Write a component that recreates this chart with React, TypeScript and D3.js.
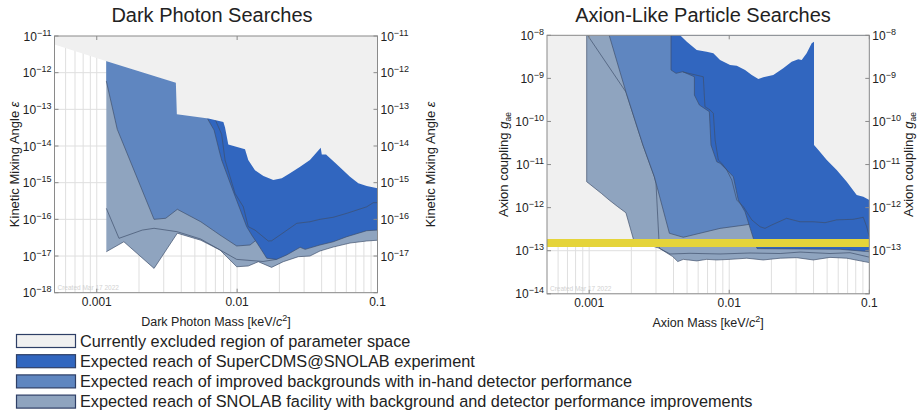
import React from "react";
import * as d3 from "d3";

type Pt = [number, number];

const FONT = '"Liberation Sans", Arial, Helvetica, sans-serif';

// Shared mass axis (keV/c^2)
const massDomain: [number, number] = [0.0005, 0.1];
const massTicks = [0.001, 0.01, 0.1];
const massTickLabels = ["0.001", "0.01", "0.1"];

// Dark photon panel: kinetic mixing exponents
const dpExponents = [-11, -12, -13, -14, -15, -16, -17, -18];
// ALP panel: axion-electron coupling exponents
const alpExponents = [-8, -9, -10, -11, -12, -13, -14];

// ---- Dark photon curves [mass, epsilon] ----
const dpExcluded: Pt[] = [
  [0.0005, 5.9e-12], [0.00116, 2.08e-12], [0.00366, 5.3e-13], [0.00372, 7.3e-14],
  [0.00624, 5.6e-14], [0.00798, 4.5e-14], [0.0082, 3.2e-14], [0.00865, 1.1e-14],
  [0.01138, 8.1e-15], [0.012, 4.15e-15], [0.0134, 2.2e-15], [0.0154, 1.52e-15],
  [0.0181, 1.18e-15], [0.0208, 1.32e-15], [0.0238, 1.8e-15], [0.0281, 2.73e-15],
  [0.033, 4.15e-15], [0.0394, 9.0e-15], [0.0401, 5.9e-15], [0.043, 5.9e-15],
  [0.0512, 3.2e-15], [0.0637, 1.46e-15], [0.073, 9.6e-16], [0.0838, 8.1e-16],
  [0.1, 7.0e-16],
];
const dpFacility: Pt[] = [
  [0.00117, 1.31e-17], [0.00156, 2.45e-17], [0.00256, 4.6e-18], [0.00375, 4.2e-17],
  [0.00551, 2.7e-17], [0.00755, 1.46e-17], [0.00993, 5.1e-18], [0.012, 5.35e-18],
  [0.01416, 7.0e-18], [0.0176, 4.9e-18], [0.0213, 7.0e-18], [0.0273, 9.6e-18],
  [0.033, 1.0e-17], [0.0389, 1.37e-17], [0.0484, 1.76e-17], [0.0637, 2.26e-17],
  [0.0838, 2.57e-17], [0.1, 2.7e-17],
];
const dpFacilityInner: Pt[] = [
  [0.00117, 2.0e-16], [0.00144, 3.04e-17], [0.00211, 5.1e-17], [0.00256, 5.7e-17],
  [0.00375, 4.6e-17], [0.00551, 2.9e-17], [0.00993, 8.1e-18], [0.0153, 7.1e-18],
  [0.0191, 8.1e-18],
];
const dpImproved: Pt[] = [
  [0.00117, 5.9e-13], [0.0014, 2.85e-14], [0.00179, 2.85e-15], [0.00256, 1.0e-16],
  [0.0031, 1.07e-16], [0.00375, 1.88e-16], [0.00551, 8.6e-17], [0.00755, 3.74e-17],
  [0.00993, 1.88e-17], [0.01236, 2.0e-17], [0.01365, 2.7e-17],
];
const dpSuperCDMS: Pt[] = [
  [0.00614, 5.6e-14], [0.00685, 2.73e-14], [0.00743, 7.8e-15], [0.00776, 4.15e-15],
  [0.0094, 5.7e-16], [0.0117, 6.3e-17], [0.0127, 3.74e-17], [0.01416, 2.0e-17],
  [0.01626, 8.7e-18], [0.0191, 8.1e-18], [0.02254, 1.07e-17], [0.0281, 1.73e-17],
  [0.0305, 1.52e-17], [0.0389, 2.0e-17], [0.0484, 2.45e-17], [0.0604, 3.36e-17],
  [0.0838, 4.9e-17], [0.1, 5.1e-17],
];
const dpSuperCDMSInner: Pt[] = [
  [0.00697, 5.35e-14], [0.00776, 2.08e-14], [0.0082, 4.15e-15], [0.00966, 5.1e-16],
  [0.01107, 2.2e-16], [0.012, 6.3e-17], [0.0134, 5.1e-17], [0.01667, 2.57e-17],
  [0.0176, 2.6e-17], [0.0202, 3.74e-17], [0.0266, 7.8e-17], [0.033, 8.6e-17],
  [0.0389, 1.0e-16], [0.0484, 1.14e-16], [0.0604, 1.46e-16], [0.0838, 2.2e-16],
  [0.0933, 2.85e-16], [0.1, 2.85e-16],
];

// ---- ALP curves [mass, g_ae] ----
const alpExcludedFloor = 1.5e-13;
const alpYellowBand: [number, number] = [1.22e-13, 1.87e-13];
const alpExcluded: Pt[] = [
  [0.00446, 1e-8], [0.00498, 7.1e-9], [0.00586, 4.56e-9], [0.0069, 4.16e-9],
  [0.0077, 3.82e-9], [0.0086, 2.67e-9], [0.01014, 2.05e-9], [0.01132, 1.97e-9],
  [0.01297, 1.57e-9], [0.01448, 1.2e-9], [0.01614, 9.7e-10], [0.0175, 1.06e-9],
  [0.02064, 1.2e-9], [0.0243, 1.71e-9], [0.0279, 2.44e-9], [0.0311, 2.77e-9],
  [0.0329, 2.67e-9], [0.0357, 3.82e-9], [0.0388, 6.5e-9], [0.0403, 7.1e-9],
  [0.0403, 2.84e-11], [0.0433, 2.18e-11], [0.0497, 1.27e-11], [0.0585, 7.5e-12],
  [0.069, 4.0e-12], [0.0813, 1.96e-12], [0.0906, 1.79e-12], [0.1, 1.5e-12],
];
const alpFacility: Pt[] = [
  [0.00096, 1e-8], [0.00096, 4.0e-12], [0.00122, 2.15e-12], [0.00139, 1.5e-12],
  [0.0016, 1.05e-12], [0.00183, 7.6e-13], [0.00207, 1.84e-13], [0.00281, 1.29e-13],
  [0.00317, 1.14e-13], [0.00395, 7.3e-14], [0.00429, 5.6e-14], [0.0047, 6.3e-14],
  [0.00586, 5.8e-14], [0.0069, 6.3e-14], [0.00815, 6.1e-14], [0.01014, 6.3e-14],
  [0.01334, 6.7e-14], [0.0175, 6.1e-14], [0.0231, 6.7e-14], [0.0303, 6.9e-14],
  [0.0398, 6.1e-14], [0.0524, 7.0e-14], [0.069, 6.7e-14], [0.1, 5.3e-14],
];
const alpFacilityInner: Pt[] = [
  [0.000975, 1e-8], [0.00183, 4.83e-10], [0.00242, 2.84e-11], [0.00292, 5.2e-12],
  [0.003, 3.67e-12], [0.00317, 1.14e-13], [0.00378, 8.4e-14], [0.00525, 8.7e-14],
  [0.0086, 8.4e-14], [0.01408, 8.85e-14], [0.0231, 8.6e-14], [0.032, 9.3e-14],
  [0.0524, 8.6e-14], [0.0728, 9.0e-14], [0.1, 7.1e-14],
];
const alpImproved: Pt[] = [
  [0.00139, 1e-8], [0.00183, 4.83e-10], [0.00242, 2.84e-11], [0.00292, 5.2e-12],
  [0.00374, 2.54e-13], [0.0047, 2.05e-13], [0.0086, 3.3e-13], [0.01297, 3.95e-13],
  [0.01455, 4.2e-13],
];
const alpSuperCDMS: Pt[] = [
  [0.00384, 1e-8], [0.00384, 1.57e-9], [0.00417, 1.31e-9], [0.00466, 1.43e-9],
  [0.00564, 1.09e-9], [0.00564, 4.1e-10], [0.00612, 2.41e-10], [0.00721, 1.69e-10],
  [0.00741, 2.84e-11], [0.00815, 1.16e-11], [0.0086, 1.07e-11], [0.01014, 6.3e-12],
  [0.0107, 5.2e-12], [0.01161, 1.5e-12], [0.01297, 8.0e-13], [0.01486, 1.94e-13],
  [0.0158, 1.12e-13], [0.032, 1.1e-13], [0.0618, 1.08e-13], [0.1, 9.5e-14],
];
const alpSuperCDMSInner: Pt[] = [
  [0.00466, 1.41e-9], [0.00653, 1.09e-9], [0.00671, 2.2e-10], [0.0073, 1.85e-10],
  [0.0077, 1.55e-10], [0.00793, 3.7e-11], [0.00836, 1.27e-11], [0.00884, 1.07e-11],
  [0.0096, 7.5e-12], [0.01042, 4.4e-12], [0.01132, 1.5e-12], [0.01262, 1.05e-12],
  [0.01448, 5.2e-13], [0.0166, 3.6e-13], [0.018, 3.3e-13], [0.0201, 3.95e-13],
  [0.0257, 5.65e-13], [0.032, 4.7e-13], [0.0398, 4.7e-13], [0.0483, 4.47e-13],
  [0.0585, 5.2e-13], [0.0769, 5.36e-13], [0.0906, 5.96e-13], [0.0958, 3.6e-13],
  [0.1, 2.1e-13],
];

// Legend
const legendLabels = [
  "Currently excluded region of parameter space",
  "Expected reach of SuperCDMS@SNOLAB experiment",
  "Expected reach of improved backgrounds with in-hand detector performance",
  "Expected reach of SNOLAB facility with background and detector performance improvements",
];

const C_EXCL = "#f0f0f0";
const C_CDMS = "#3166bf";
const C_IMPR = "#5f86c0";
const C_FAC = "#8fa4bf";
const C_YELLOW = "#e5d43a";
const C_EDGE = "#3f4e6b";
const C_GRID = "#dfdfdf";
const C_FRAME = "#8a8a8a";
const legendFills = [C_EXCL, C_CDMS, C_IMPR, C_FAC];

interface PanelProps {
  id: string;
  left: number;
  right: number;
  top: number;
  bottom: number;
  yDomain: [number, number];
  exps: number[];
  title: string;
  titleX: number;
  xTitle: React.ReactNode;
  yTitle: React.ReactNode;
  yTitleLeftX: number;
  yTitleRightX: number;
  children: (x: d3.ScaleLogarithmic<number, number>, y: d3.ScaleLogarithmic<number, number>) => React.ReactNode;
}

function powerLabel(e: number) {
  return (
    <>
      10<tspan dy={-5} fontSize={9}>{"\u2212" + Math.abs(e)}</tspan>
    </>
  );
}

function Panel(p: PanelProps) {
  const x = d3.scaleLog().domain(massDomain).range([p.left, p.right]);
  const y = d3.scaleLog().domain(p.yDomain).range([p.bottom, p.top]);
  const minor: number[] = [];
  for (let e = -4; e <= -1; e++) {
    for (let k = 1; k <= 9; k++) {
      const v = k * Math.pow(10, e);
      if (v > massDomain[0] * 1.0001 && v < massDomain[1] * 0.9999) minor.push(v);
    }
  }
  const midY = (p.top + p.bottom) / 2;
  const lowest = Math.min(...p.exps);
  return (
    <g>
      <text x={p.titleX} y={22} textAnchor="middle" fontSize={20} fill="#222" fontFamily={FONT}>
        {p.title}
      </text>
      <defs>
        <clipPath id={p.id + "-clip"}>
          <rect x={p.left} y={p.top} width={p.right - p.left} height={p.bottom - p.top} />
        </clipPath>
      </defs>
      <rect x={p.left} y={p.top} width={p.right - p.left} height={p.bottom - p.top} fill="#fff" />
      <g clipPath={`url(#${p.id}-clip)`}>
        {minor.map((v) => (
          <line key={"v" + v} x1={x(v)} x2={x(v)} y1={p.top} y2={p.bottom} stroke={C_GRID} strokeWidth={1} />
        ))}
        {p.exps.map((e) => (
          <line key={"h" + e} x1={p.left} x2={p.right} y1={y(Math.pow(10, e))} y2={y(Math.pow(10, e))} stroke={C_GRID} strokeWidth={1} />
        ))}
        {p.children(x, y)}
        <text x={p.left + 3} y={p.bottom - 2.5} fontSize={6.5} fill="#d2d2d2" fontFamily={FONT}>
          Created Mar 17 2022
        </text>
      </g>
      <rect x={p.left} y={p.top} width={p.right - p.left} height={p.bottom - p.top} fill="none" stroke={C_FRAME} strokeWidth={1} />
      {/* y ticks on both sides; the right-hand labels stop above the bottom decade */}
      {p.exps.map((e) => {
        const yy = y(Math.pow(10, e));
        return (
          <g key={"t" + e} fontFamily={FONT} fill="#222">
            <line x1={p.left} x2={p.left + 4} y1={yy} y2={yy} stroke={C_FRAME} />
            <line x1={p.right - 4} x2={p.right} y1={yy} y2={yy} stroke={C_FRAME} />
            <text x={p.left - 3} y={yy + 4.5} textAnchor="end" fontSize={12}>
              {powerLabel(e)}
            </text>
            {e !== lowest && (
              <text x={p.right + 3} y={yy + 4.5} textAnchor="start" fontSize={12}>
                {powerLabel(e)}
              </text>
            )}
          </g>
        );
      })}
      {massTicks.map((m, i) => (
        <g key={"x" + m} fontFamily={FONT} fill="#222">
          <line x1={x(m)} x2={x(m)} y1={p.bottom} y2={p.bottom - 4} stroke={C_FRAME} />
          <line x1={x(m)} x2={x(m)} y1={p.top} y2={p.top + 4} stroke={C_FRAME} />
          <text x={x(m)} y={p.bottom + 13.5} textAnchor="middle" fontSize={12}>
            {massTickLabels[i]}
          </text>
        </g>
      ))}
      <text x={(p.left + p.right) / 2} y={p.bottom + 33} textAnchor="middle" fontSize={12.5} fill="#222" fontFamily={FONT}>
        {p.xTitle}
      </text>
      <text transform={`translate(${p.yTitleLeftX},${midY}) rotate(-90)`} textAnchor="middle" fontSize={13} fill="#222" fontFamily={FONT}>
        {p.yTitle}
      </text>
      <text transform={`translate(${p.yTitleRightX},${midY}) rotate(-90)`} textAnchor="middle" fontSize={13} fill="#222" fontFamily={FONT}>
        {p.yTitle}
      </text>
    </g>
  );
}

function bandPath(line: d3.Line<Pt>, pts: Pt[], yTop: number): string {
  const closed: Pt[] = [...pts, [pts[pts.length - 1][0], yTop], [pts[0][0], yTop]];
  return (line(closed) || "") + "Z";
}

function massTitle(name: string) {
  return (
    <>
      {name} [keV/<tspan fontStyle="italic">c</tspan>
      <tspan dy={-5} fontSize={9}>2</tspan>
      <tspan dy={5}>]</tspan>
    </>
  );
}

export default function App() {
  const edge = { stroke: C_EDGE, strokeWidth: 0.8, strokeOpacity: 0.85, fill: "none" } as const;
  return (
    <svg width={918} height={418} style={{ position: "absolute", left: 0, top: 0, background: "#fff" }}>
      <Panel
        id="dp"
        left={54.5}
        right={377.5}
        top={36}
        bottom={292.7}
        yDomain={[1e-18, 1e-11]}
        exps={dpExponents}
        title="Dark Photon Searches"
        titleX={212}
        xTitle={massTitle("Dark Photon Mass")}
        yTitle={<>Kinetic Mixing Angle <tspan fontStyle="italic">ε</tspan></>}
        yTitleLeftX={19}
        yTitleRightX={435}
      >
        {(x, y) => {
          const line = d3.line<Pt>().x((d) => x(d[0])).y((d) => y(d[1]));
          const top = 1e-11;
          return (
            <g>
              <path d={bandPath(line, dpFacility, top)} fill={C_FAC} />
              <path d={line(dpFacility) || ""} {...edge} />
              <path d={line(dpFacilityInner) || ""} {...edge} />
              <path d={bandPath(line, dpImproved, top)} fill={C_IMPR} />
              <path d={line(dpImproved) || ""} {...edge} />
              <path d={bandPath(line, dpSuperCDMS, top)} fill={C_CDMS} />
              <path d={line(dpSuperCDMS) || ""} {...edge} />
              <path d={line(dpSuperCDMSInner) || ""} {...edge} />
              <path d={(line([...dpExcluded, [0.1, top], [0.0005, top]]) || "") + "Z"} fill={C_EXCL} />
            </g>
          );
        }}
      </Panel>
      <Panel
        id="alp"
        left={547}
        right={869.3}
        top={35.3}
        bottom={293.8}
        yDomain={[1e-14, 1e-8]}
        exps={alpExponents}
        title="Axion-Like Particle Searches"
        titleX={703}
        xTitle={massTitle("Axion Mass")}
        yTitle={
          <>
            Axion coupling <tspan fontStyle="italic">g</tspan>
            <tspan dy={3} fontSize={8.5}>ae</tspan>
          </>
        }
        yTitleLeftX={508}
        yTitleRightX={913}
      >
        {(x, y) => {
          const line = d3.line<Pt>().x((d) => x(d[0])).y((d) => y(d[1]));
          const top = 1e-8;
          return (
            <g>
              <rect x={x(massDomain[0])} y={y(top)} width={x(massDomain[1]) - x(massDomain[0])} height={y(alpExcludedFloor) - y(top)} fill={C_EXCL} />
              <path d={bandPath(line, alpFacility, top)} fill={C_FAC} />
              <path d={line(alpFacility) || ""} {...edge} />
              <path d={line(alpFacilityInner) || ""} {...edge} />
              <path d={bandPath(line, alpImproved, top)} fill={C_IMPR} />
              <path d={line(alpImproved) || ""} {...edge} />
              <path d={bandPath(line, alpSuperCDMS, top)} fill={C_CDMS} />
              <path d={line(alpSuperCDMS) || ""} {...edge} />
              <path d={line(alpSuperCDMSInner) || ""} {...edge} />
              <path d={(line([...alpExcluded, [0.1, top]]) || "") + "Z"} fill={C_EXCL} />
              <rect
                x={x(massDomain[0])}
                y={y(alpYellowBand[1])}
                width={x(massDomain[1]) - x(massDomain[0])}
                height={y(alpYellowBand[0]) - y(alpYellowBand[1])}
                fill={C_YELLOW}
              />
            </g>
          );
        }}
      </Panel>
      <g fontFamily={FONT}>
        {legendLabels.map((label, i) => {
          const yy = 334.5 + i * 20.2;
          return (
            <g key={label}>
              <rect x={16.5} y={yy} width={59} height={13} fill={legendFills[i]} stroke="#2e3f66" strokeWidth={1.2} />
              <text x={80} y={yy + 12} fontSize={16.3} fill="#222">
                {label}
              </text>
            </g>
          );
        })}
      </g>
    </svg>
  );
}
